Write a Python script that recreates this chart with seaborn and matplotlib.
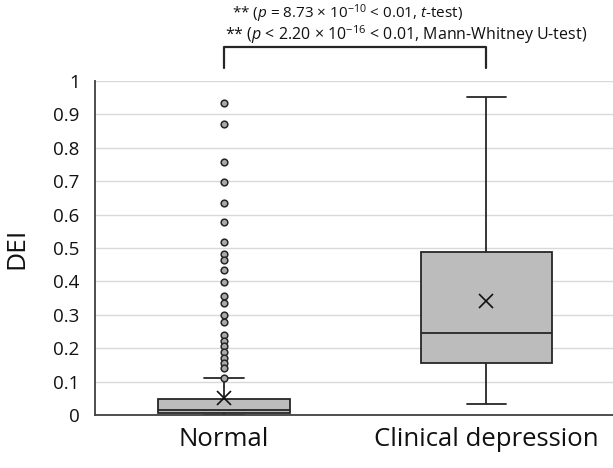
import numpy as np
import pandas as pd
import matplotlib
matplotlib.use("Agg")
import matplotlib.pyplot as plt
import seaborn as sns

# Groups compared
groups = ["Normal", "Clinical depression"]

# Box summaries: lower whisker, Q1, median, Q3, upper whisker
normal_summary = [0.0, 0.005, 0.015, 0.048, 0.110]
depression_summary = [0.033, 0.155, 0.245, 0.489, 0.952]

# Group means (drawn as crosses)
group_means = [0.052, 0.342]

# Outlying DEI values in the normal group
normal_outliers = [0.935, 0.872, 0.757, 0.698, 0.636, 0.579, 0.517, 0.481,
                   0.465, 0.435, 0.399, 0.357, 0.336, 0.300, 0.279, 0.241,
                   0.223, 0.206, 0.189, 0.172, 0.156, 0.140, 0.112]

# Y axis ticks
ytick_values = [0, 0.1, 0.2, 0.3, 0.4, 0.5, 0.6, 0.7, 0.8, 0.9, 1.0]
ytick_labels = ["0", "0.1", "0.2", "0.3", "0.4", "0.5", "0.6", "0.7", "0.8", "0.9", "1"]

# Significance annotation
annotation_lines = [
    r"** ($\mathit{p}$ = 8.73 $\times$ 10$^{\mathregular{-10}}$ < 0.01, $\mathit{t}$-test)",
    r"** ($\mathit{p}$ < 2.20 $\times$ 10$^{\mathregular{-16}}$ < 0.01, Mann-Whitney U-test)",
]

sns.set_theme(style="white")
plt.rcParams["font.family"] = ["Open Sans", "DejaVu Sans"]
plt.rcParams["mathtext.fontset"] = "custom"
plt.rcParams["mathtext.rm"] = "Open Sans"
plt.rcParams["mathtext.it"] = "Open Sans:italic"
plt.rcParams["mathtext.bf"] = "Open Sans:bold"

text_color = "#111111"
edge_color = "#262626"

box_df = pd.DataFrame({
    "group": [groups[0]] * len(normal_summary) + [groups[1]] * len(depression_summary),
    "DEI": normal_summary + depression_summary,
})

fig = plt.figure(figsize=(6.13, 4.68), dpi=100)
ax = fig.add_axes([95 / 613, 53 / 468, 518 / 613, 334 / 468])

sns.boxplot(data=box_df, x="group", y="DEI", order=groups, whis=(0, 100),
            showfliers=False, width=0.5, color="#bcbcbc", saturation=1,
            linecolor=edge_color, linewidth=1.3, capwidths=0.15, ax=ax)

sns.stripplot(x=[groups[0]] * len(normal_outliers), y=normal_outliers,
              order=groups, jitter=False, size=4.8, color="#a9a9a9",
              edgecolor="#262626", linewidth=1.1, ax=ax, zorder=4)

sns.pointplot(x=groups, y=group_means, order=groups, linestyle="none",
              markers="x", color=text_color, markersize=9.5, markeredgewidth=1.2,
              errorbar=None, ax=ax, zorder=5)

ax.set_xlim(-0.4914, 1.4819)
ax.set_ylim(0, 1)
ax.set_yticks(ytick_values)
ax.set_yticklabels(ytick_labels, fontsize=13.5, color=text_color)
ax.set_xticks(range(len(groups)))
ax.set_xticklabels(groups, fontsize=18.5, color=text_color)
ax.tick_params(axis="y", length=0, pad=11)
ax.tick_params(axis="x", length=0, pad=9)
ax.set_xlabel("")
ax.set_ylabel("DEI", fontsize=19, color=text_color)
ax.yaxis.set_label_coords(-0.127, 0.5)

ax.yaxis.grid(True, color="#d9d9d9", linewidth=1.0)
ax.xaxis.grid(False)
ax.set_axisbelow(True)
for side in ("top", "right"):
    ax.spines[side].set_visible(False)
for side in ("left", "bottom"):
    ax.spines[side].set_color("#404040")
    ax.spines[side].set_linewidth(1.3)

# Significance bracket between the two groups
bracket_low, bracket_high = 1.039, 1.102
ax.plot([0, 0, 1, 1], [bracket_low, bracket_high, bracket_high, bracket_low],
        color=edge_color, linewidth=1.6, clip_on=False)
ax.text(0.03, 1.202, annotation_lines[0], ha="left", va="center",
        fontsize=11, color=text_color, clip_on=False)
ax.text(0.004, 1.139, annotation_lines[1], ha="left", va="center",
        fontsize=11.5, color=text_color, clip_on=False)

fig.savefig("out.png", dpi=100)
